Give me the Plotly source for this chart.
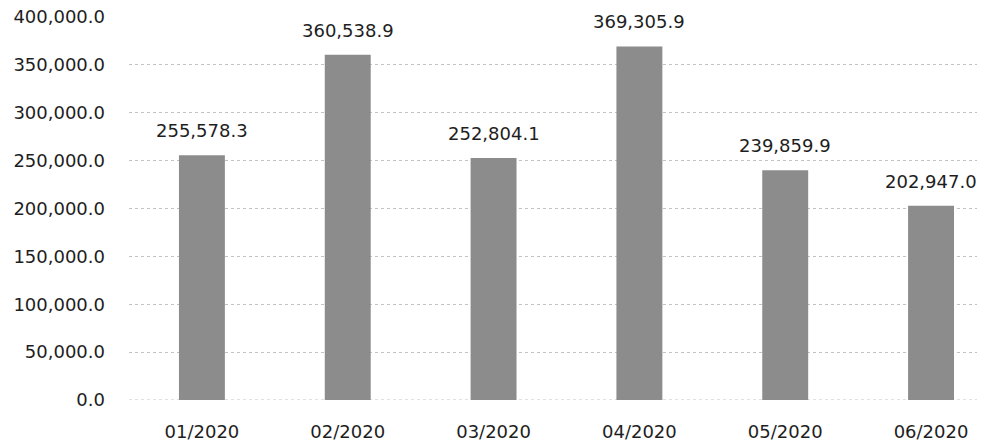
import plotly.graph_objects as go

categories = ["01/2020", "02/2020", "03/2020", "04/2020", "05/2020", "06/2020"]
values = [255578.3, 360538.9, 252804.1, 369305.9, 239859.9, 202947.0]
y_ticks = [0, 50000, 100000, 150000, 200000, 250000, 300000, 350000, 400000]

font_family = "DejaVu Sans, Verdana, sans-serif"
text_color = "#1e1e1e"
grid_color = "#c2c2c2"

fig = go.Figure(
    go.Bar(
        x=categories,
        y=values,
        width=0.315,
        marker=dict(color="#8c8c8c", line=dict(width=0)),
        hoverinfo="x+y",
    )
)

for c, v in zip(categories, values):
    fig.add_annotation(
        x=c, y=v, text=f"{v:,.1f}", showarrow=False,
        yanchor="bottom", yshift=12,
        font=dict(size=18, color=text_color, family=font_family),
    )

# dotted baseline at zero, like the gridlines
fig.add_shape(
    type="line", xref="paper", yref="y", x0=0, x1=1, y0=0, y1=0,
    line=dict(color=grid_color, width=1, dash="dot"), layer="below",
)

# the page body adds an 8px offset, so the figure is sized to fill the rest
fig.update_layout(
    width=977,
    height=436,
    margin=dict(l=121, r=0, t=9, b=44),
    paper_bgcolor="white",
    plot_bgcolor="white",
    showlegend=False,
    font=dict(family=font_family, size=18, color=text_color),
)

fig.update_xaxes(
    type="category",
    range=[-0.5, 5.37],
    showgrid=False,
    showline=False,
    ticks="",
    tickfont=dict(size=18),
    ticklabelstandoff=19,
    ticklabeloverflow="allow",
    automargin=False,
)

fig.update_yaxes(
    range=[0, 400000],
    tickvals=y_ticks,
    tickformat=",.1f",
    showgrid=True,
    gridcolor=grid_color,
    griddash="dot",
    gridwidth=1,
    zeroline=False,
    showline=False,
    ticks="",
    tickfont=dict(size=18),
    ticklabelstandoff=23,
    ticklabeloverflow="allow",
    automargin=False,
)

fig.write_html("out.html")
